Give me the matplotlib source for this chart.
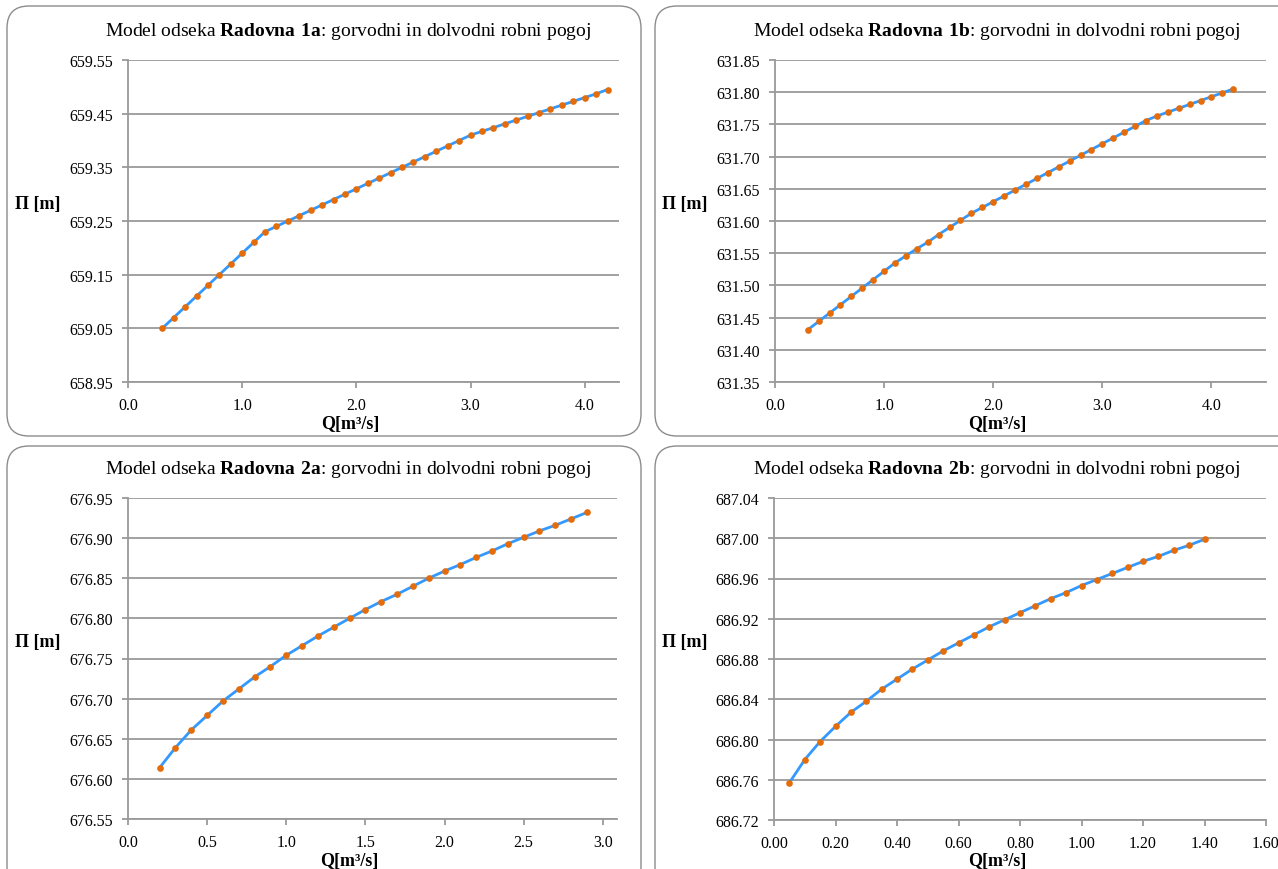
import numpy as np
import matplotlib
matplotlib.use("Agg")
import matplotlib.pyplot as plt
from matplotlib.patches import FancyBboxPatch
from matplotlib.transforms import IdentityTransform
from matplotlib.ticker import FormatStrFormatter, FixedLocator

plt.rcParams['font.family'] = ['Liberation Serif', 'DejaVu Serif']
plt.rcParams['mathtext.fontset'] = 'custom'
plt.rcParams['mathtext.rm'] = 'Liberation Serif'
plt.rcParams['mathtext.bf'] = 'Liberation Serif:bold'

# ---------------- data ----------------
q_1a = [0.3, 0.4, 0.5, 0.6, 0.7, 0.8, 0.9, 1.0, 1.1, 1.2, 1.3, 1.4, 1.5, 1.6, 1.7, 1.8, 1.9, 2.0,
        2.1, 2.2, 2.3, 2.4, 2.5, 2.6, 2.7, 2.8, 2.9, 3.0, 3.1, 3.2, 3.3, 3.4, 3.5, 3.6, 3.7, 3.8,
        3.9, 4.0, 4.1, 4.2]
h_1a = [659.050, 659.070, 659.090, 659.110, 659.130, 659.150, 659.170, 659.190, 659.210, 659.230,
        659.240, 659.250, 659.260, 659.270, 659.280, 659.290, 659.300, 659.310, 659.320, 659.330,
        659.340, 659.350, 659.360, 659.370, 659.380, 659.390, 659.400, 659.410, 659.417, 659.424,
        659.431, 659.438, 659.445, 659.452, 659.459, 659.466, 659.473, 659.480, 659.487, 659.495]

q_1b = q_1a
h_1b = [631.431, 631.444, 631.457, 631.470, 631.483, 631.496, 631.509, 631.522, 631.535, 631.546,
        631.557, 631.567, 631.579, 631.590, 631.601, 631.612, 631.621, 631.630, 631.639, 631.648,
        631.657, 631.666, 631.675, 631.684, 631.693, 631.702, 631.711, 631.720, 631.729, 631.738,
        631.747, 631.756, 631.763, 631.769, 631.775, 631.781, 631.787, 631.793, 631.799, 631.805]

q_2a = [0.2, 0.3, 0.4, 0.5, 0.6, 0.7, 0.8, 0.9, 1.0, 1.1, 1.2, 1.3, 1.4, 1.5, 1.6, 1.7, 1.8, 1.9,
        2.0, 2.1, 2.2, 2.3, 2.4, 2.5, 2.6, 2.7, 2.8, 2.9]
h_2a = [676.614, 676.639, 676.661, 676.679, 676.697, 676.712, 676.727, 676.740, 676.754, 676.766,
        676.778, 676.789, 676.800, 676.811, 676.821, 676.830, 676.840, 676.850, 676.859, 676.867,
        676.876, 676.884, 676.893, 676.901, 676.909, 676.916, 676.924, 676.932]

q_2b = [0.05, 0.10, 0.15, 0.20, 0.25, 0.30, 0.35, 0.40, 0.45, 0.50, 0.55, 0.60, 0.65, 0.70, 0.75,
        0.80, 0.85, 0.90, 0.95, 1.00, 1.05, 1.10, 1.15, 1.20, 1.25, 1.30, 1.35, 1.40]
h_2b = [686.757, 686.780, 686.798, 686.813, 686.827, 686.838, 686.850, 686.860, 686.870, 686.879,
        686.888, 686.896, 686.904, 686.912, 686.919, 686.926, 686.933, 686.940, 686.946, 686.953,
        686.959, 686.965, 686.971, 686.977, 686.982, 686.988, 686.993, 686.999]

names = ["Radovna 1a", "Radovna 1b", "Radovna 2a", "Radovna 2b"]
y_ticks_1a = [658.95, 659.05, 659.15, 659.25, 659.35, 659.45, 659.55]
y_ticks_1b = [631.35, 631.40, 631.45, 631.50, 631.55, 631.60, 631.65, 631.70, 631.75, 631.80, 631.85]
y_ticks_2a = [676.55, 676.60, 676.65, 676.70, 676.75, 676.80, 676.85, 676.90, 676.95]
y_ticks_2b = [686.72, 686.76, 686.80, 686.84, 686.88, 686.92, 686.96, 687.00, 687.04]
x_ticks_1 = [0.0, 1.0, 2.0, 3.0, 4.0]
x_ticks_2a = [0.0, 0.5, 1.0, 1.5, 2.0, 2.5, 3.0]
x_ticks_2b = [0.0, 0.2, 0.4, 0.6, 0.8, 1.0, 1.2, 1.4, 1.6]

# ---------------- layout ----------------
W, H = 1278, 870
fig = plt.figure(figsize=(W / 100, H / 100), dpi=100)

def px_axes(l, t, r, b):
    return fig.add_axes([l / W, 1 - b / H, (r - l) / W, (b - t) / H])

panels = [
    dict(q=q_1a, h=h_1a, name=names[0], yt=y_ticks_1a, xt=x_ticks_1, xlim=(0, 4.3),
         yfmt='%.2f', xfmt='%.1f', ax=(128, 61, 619, 383), box=(7, 7, 641, 437),
         title=(348, 31), ylab=(38, 204), xlab=(350, 425)),
    dict(q=q_1b, h=h_1b, name=names[1], yt=y_ticks_1b, xt=x_ticks_1, xlim=(0, 4.5),
         yfmt='%.2f', xfmt='%.1f', ax=(775, 61, 1266, 383), box=(655, 7, 1300, 437),
         title=(997, 31), ylab=(685, 204), xlab=(997, 425)),
    dict(q=q_2a, h=h_2a, name=names[2], yt=y_ticks_2a, xt=x_ticks_2a, xlim=(0, 3.09),
         yfmt='%.2f', xfmt='%.1f', ax=(128, 499, 617, 820), box=(7, 447, 641, 890),
         title=(348, 469), ylab=(38, 642), xlab=(349, 862)),
    dict(q=q_2b, h=h_2b, name=names[3], yt=y_ticks_2b, xt=x_ticks_2b, xlim=(0, 1.6),
         yfmt='%.2f', xfmt='%.2f', ax=(774, 499, 1266, 821), box=(655, 447, 1300, 890),
         title=(997, 469), ylab=(685, 642), xlab=(997, 862)),
]

grid_c = '#9a9a9a'
tick_fs = 11.5
title_fs = 14
lab_fs = 13

for p in panels:
    x0, y0, x1, y1 = p['box']
    fig.patches.append(FancyBboxPatch((x0, H - y1), x1 - x0, y1 - y0,
                                      boxstyle="round,pad=0,rounding_size=22",
                                      transform=IdentityTransform(), facecolor='none',
                                      edgecolor='#8c8c8c', linewidth=1.0, zorder=0))
    ax = px_axes(*p['ax'])
    ax.plot(p['q'], p['h'], color='#3399ff', linewidth=2.0, zorder=3)
    ax.plot(p['q'], p['h'], linestyle='none', marker='o', markersize=4.8,
            color='#e46c0a', markeredgewidth=0, zorder=4)
    ax.set_xlim(*p['xlim'])
    ax.set_ylim(p['yt'][0], p['yt'][-1])
    ax.yaxis.set_major_locator(FixedLocator(p['yt']))
    ax.xaxis.set_major_locator(FixedLocator(p['xt']))
    ax.yaxis.set_major_formatter(FormatStrFormatter(p['yfmt']))
    ax.xaxis.set_major_formatter(FormatStrFormatter(p['xfmt']))
    ax.grid(axis='y', color=grid_c, linewidth=1.3)
    ax.set_axisbelow(True)
    for s in ['top', 'right']:
        ax.spines[s].set_visible(False)
    for s in ['left', 'bottom']:
        ax.spines[s].set_color(grid_c)
        ax.spines[s].set_linewidth(1.3)
    ax.tick_params(axis='both', direction='out', length=4, width=1.3, color=grid_c,
                   labelsize=tick_fs, labelcolor='black', pad=7)
    ax.set_facecolor('none')
    fig.text(p['title'][0] / W, 1 - p['title'][1] / H,
             r"Model odseka $\mathbf{" + p['name'].replace(' ', r'\ ') + r"}$: gorvodni in dolvodni robni pogoj",
             ha='center', va='center', fontsize=title_fs)
    fig.text(p['ylab'][0] / W, 1 - p['ylab'][1] / H, "Π [m]", ha='center', va='center',
             fontsize=lab_fs, fontweight='bold')
    fig.text(p['xlab'][0] / W, 1 - p['xlab'][1] / H, "Q[m³/s]", ha='center', va='center',
             fontsize=lab_fs, fontweight='bold')

fig.savefig("out.png", dpi=100)
